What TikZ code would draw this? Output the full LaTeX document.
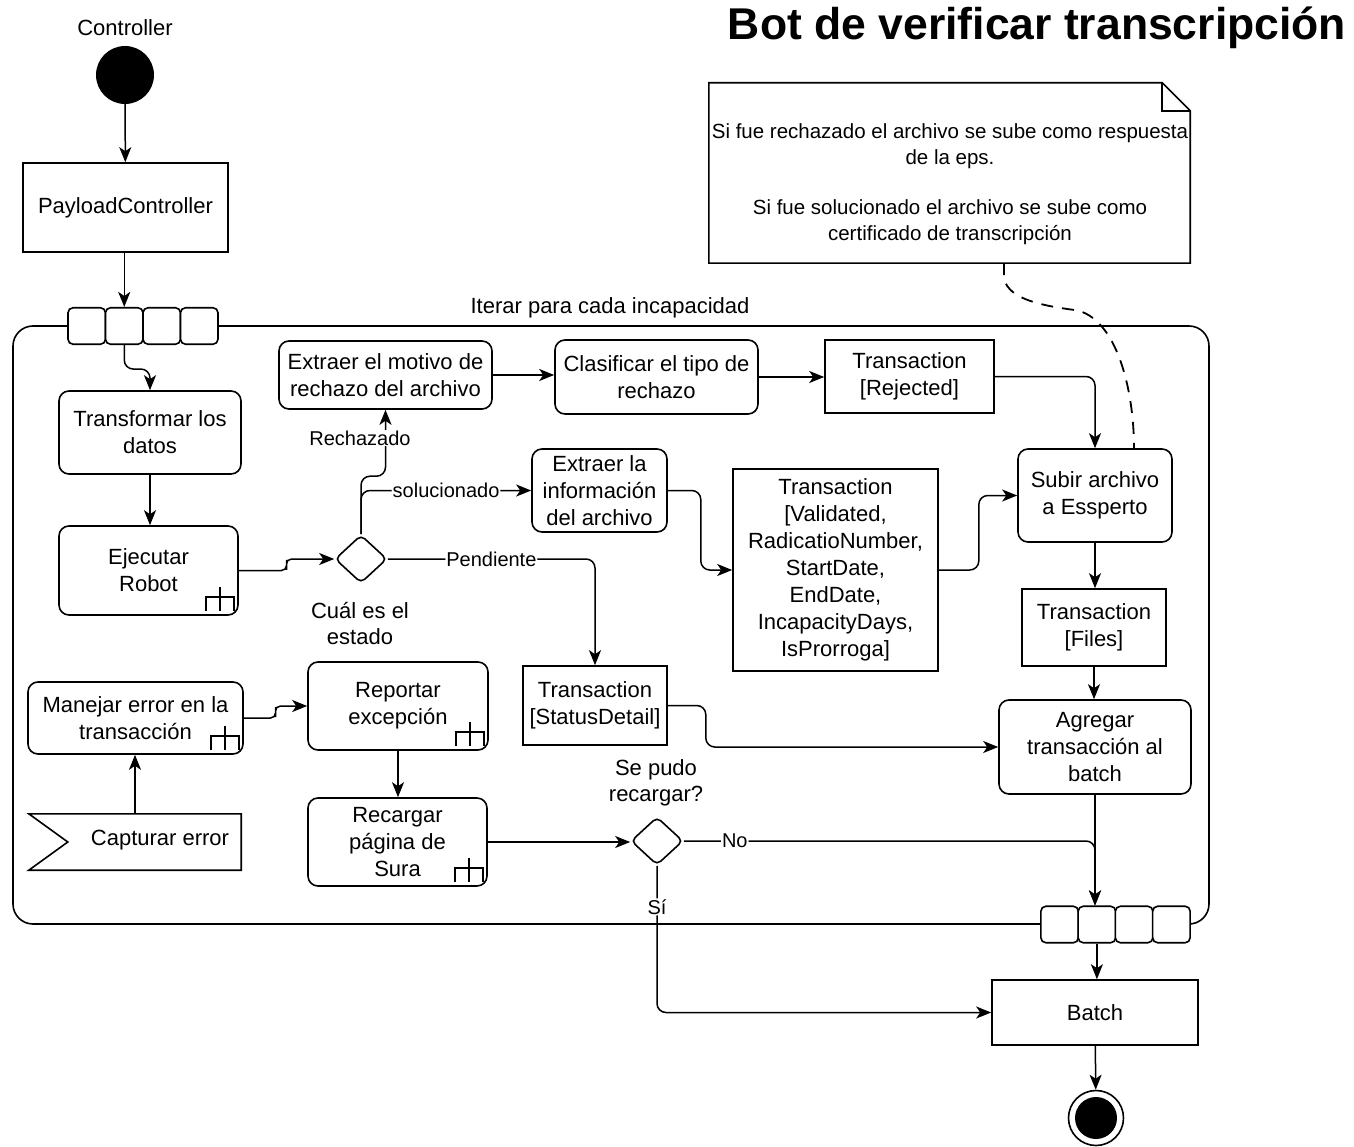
\documentclass[tikz,border=0pt]{standalone}
\usepackage{fontspec}
\setmainfont{Liberation Sans}
\usetikzlibrary{arrows.meta,shapes.geometric,calc}
\tikzset{
  lw/.style={line width=1.6pt},
  base/.style={lw, draw, align=center, inner sep=2pt, font=\fontsize{22}{27}\selectfont},
  act/.style={base, rounded corners=10pt},
  obj/.style={base},
  dec/.style={lw, draw, diamond, rounded corners=5pt, minimum width=52pt, minimum height=48pt, inner sep=0pt},
  pin/.style={lw, draw, fill=white, rounded corners=5pt, minimum width=37.5pt, minimum height=36.5pt, inner sep=0pt},
  flow/.style={line width=1.5pt, -{Stealth[length=15pt,width=12pt,inset=4pt]}, rounded corners=9pt},
  jog/.style={flow, rounded corners=5pt},
  lbl/.style={fill=white, inner sep=1pt, font=\fontsize{20}{24}\selectfont},
  txt/.style={align=center, font=\fontsize{22}{26}\selectfont},
}
% sub-activity (rake) marker in the lower right corner of an action
\newcommand{\rakeicon}[1]{%
  \draw[lw] ([shift={(-33,-5)}]#1.south east) -- ++(0,-14) -- ++(28,0) -- ++(0,14)
            ([shift={(-19,-5)}]#1.south east) -- ++(0,-24);}
\begin{document}
\begin{tikzpicture}[x=1pt,y=-1pt]
\useasboundingbox (0,0) rectangle (1354,1147);

% title
\node[font=\fontsize{44.5}{50}\selectfont\bfseries] (title) at (1037,28) {Bot de verificar transcripción};

% start
\node[txt] (ctrl) at (125,28) {Controller};
\node[circle, fill=black, minimum size=58pt, inner sep=0pt] (start) at (125,75) {};
\node[obj, minimum width=205pt, minimum height=89pt] (payload) at (125.5,207.5) {PayloadController};

% expansion region with input and output pins
\node[lw, draw, rounded corners=20pt, minimum width=1196pt, minimum height=598pt] (region) at (611,625) {};
\node[txt] (itlbl) at (610,308) {Iterar para cada incapacidad};
\foreach \i/\x in {1/86.75,2/124.25,3/161.75,4/199.25} \node[pin] (tp\i) at (\x,326) {};
\foreach \i/\x in {1/1059.6,2/1096.9,3/1134.1,4/1171.4} \node[pin] (bp\i) at (\x,924.5) {};

% actions and objects
\node[act, minimum width=182pt, minimum height=83pt] (transf) at (150,432.5) {Transformar los\\datos};
\node[act, minimum width=179pt, minimum height=89pt] (ejec) at (148.5,570.5) {Ejecutar\\Robot};
\node[dec] (dec1) at (361,559) {};
\node[txt] (dec1lbl) at (360,624) {Cuál es el\\estado};
\node[act, minimum width=213pt, minimum height=68pt] (motivo) at (385.5,375) {Extraer el motivo de\\rechazo del archivo};
\node[act, minimum width=203pt, minimum height=74pt] (clasif) at (656.5,377) {Clasificar el tipo de\\rechazo};
\node[obj, minimum width=169pt, minimum height=73pt] (rej) at (909.5,376.5) {Transaction\\{[Rejected]}};
\node[act, minimum width=135pt, minimum height=83pt] (info) at (599.5,490.5) {Extraer la\\información\\del archivo};
\node[obj, minimum width=205pt, minimum height=202pt] (valid) at (835.5,570) {Transaction\\{[Validated,}\\RadicatioNumber,\\StartDate,\\EndDate,\\IncapacityDays,\\IsProrroga]};
\node[act, minimum width=154pt, minimum height=93pt] (subir) at (1095,495.5) {Subir archivo\\a Essperto};
\node[obj, minimum width=144pt, minimum height=77pt] (files) at (1094,627.5) {Transaction\\{[Files]}};
\node[act, minimum width=192pt, minimum height=94pt] (agreg) at (1095,747) {Agregar\\transacción al\\batch};
\node[obj, minimum width=144pt, minimum height=79pt] (sd) at (595,705.5) {Transaction\\{[StatusDetail]}};
\node[act, minimum width=215pt, minimum height=72pt] (manejar) at (135.5,718) {Manejar error en la\\transacción};
\node[act, minimum width=180pt, minimum height=88pt] (report) at (398,706) {Reportar\\excepción};
\node[act, minimum width=179pt, minimum height=88pt] (recarg) at (397.5,842) {Recargar\\página de\\Sura};
\node[dec] (dec2) at (657,841) {};
\node[txt] (dec2lbl) at (656,783) {Se pudo\\recargar?};
\node[obj, minimum width=206pt, minimum height=65pt] (batch) at (1095,1012.5) {Batch};

% end
\node[circle, draw, lw, minimum size=55pt, inner sep=0pt] (end) at (1096,1118) {};
\fill (end.center) circle (21pt);

% accept event
\node[minimum width=212pt, minimum height=56pt, inner sep=0pt] (capt) at (135,842) {};
\draw[lw] (capt.north west) -- (capt.north east) -- (capt.south east) -- (capt.south west)
  -- ($(capt.west)+(39,0)$) -- cycle;
\node[txt] (captlbl) at (160,840) {Capturar error};

% note
\node[minimum width=481pt, minimum height=180pt, inner sep=0pt] (note) at (949.5,173) {};
\draw[lw] (note.north west) -- ($(note.north east)+(-28,0)$) -- ($(note.north east)+(0,28)$)
  -- (note.south east) -- (note.south west) -- cycle;
\draw[lw] ($(note.north east)+(-28,0)$) -- ($(note.north east)+(-28,28)$) -- ($(note.north east)+(0,28)$);
\node[align=center, font=\fontsize{20.5}{25.5}\selectfont] (notetxt) at (950,184)
  {Si fue rechazado el archivo se sube como respuesta\\de la eps.\\[25pt]Si fue solucionado el archivo se sube como\\certificado de transcripción};
\draw[line width=1.8pt, dash pattern=on 12pt off 9pt] ([xshift=54.5pt]note.south) -- ++(0,15)
  .. controls +(4,22) and +(-30,-4) .. ++(72,32)
  .. controls +(40,8) and +(0,-60) .. ([xshift=39pt]subir.north);

% sub-activity markers
\rakeicon{ejec}
\rakeicon{manejar}
\rakeicon{report}
\rakeicon{recarg}

% control flows
\draw[flow] (start) -- (payload);
\draw[flow] (payload.south -| tp2.north) -- (tp2.north);
\draw[flow] (tp2.south) -- ++(0,24) -| (transf.north);
\draw[flow] (transf.south) -- (transf.south |- ejec.north);
\draw[jog] (ejec.east) -| ($(ejec.east)!0.5!(dec1.west)$) |- (dec1.west);
\draw[flow] (dec1.north) -- ++(0,-58) -| (motivo.south);
\node[lbl] (rechlbl) at (360,438) {Rechazado};
\draw[flow] (dec1.north) -- ++(0,-25) |- (info.west) node[lbl, pos=0.75] {solucionado};
\draw[flow] (dec1.east) -| (sd.north) node[lbl, pos=0.25] {Pendiente};
\draw[flow] (motivo.east) -- (motivo.east -| clasif.west);
\draw[flow] (clasif.east) -- (clasif.east -| rej.west);
\draw[flow] (rej.east) -| (subir.north);
\draw[flow] (info.east) -- ++(33,0) |- (valid.west);
\draw[flow] (valid.east) -- ++(40,0) |- (subir.west);
\draw[flow] (subir.south) -- (subir.south |- files.north);
\draw[flow] (files.south) -- (files.south |- agreg.north);
\draw[flow] (sd.east) -- ++(38,0) |- (agreg.west);
\draw[flow] (agreg.south) -- (agreg.south |- bp2.north);
\draw[flow] (dec2.east) -| (agreg.south |- bp2.north) node[lbl, pos=0.062] {No};
\draw[flow] (dec2.south) |- (batch.west) node[lbl, pos=0.14] {Sí};
\draw[flow] (bp2.south) -- (bp2.south |- batch.north);
\draw[flow] (batch) -- (end);
\draw[flow] (capt.north) -- (capt.north |- manejar.south);
\draw[jog] (manejar.east) -| ($(manejar.east)!0.5!(report.west)$) |- (report.west);
\draw[flow] (report.south) -- (report.south |- recarg.north);
\draw[flow] (recarg.east) -- (recarg.east -| dec2.west);
\end{tikzpicture}
\end{document}
